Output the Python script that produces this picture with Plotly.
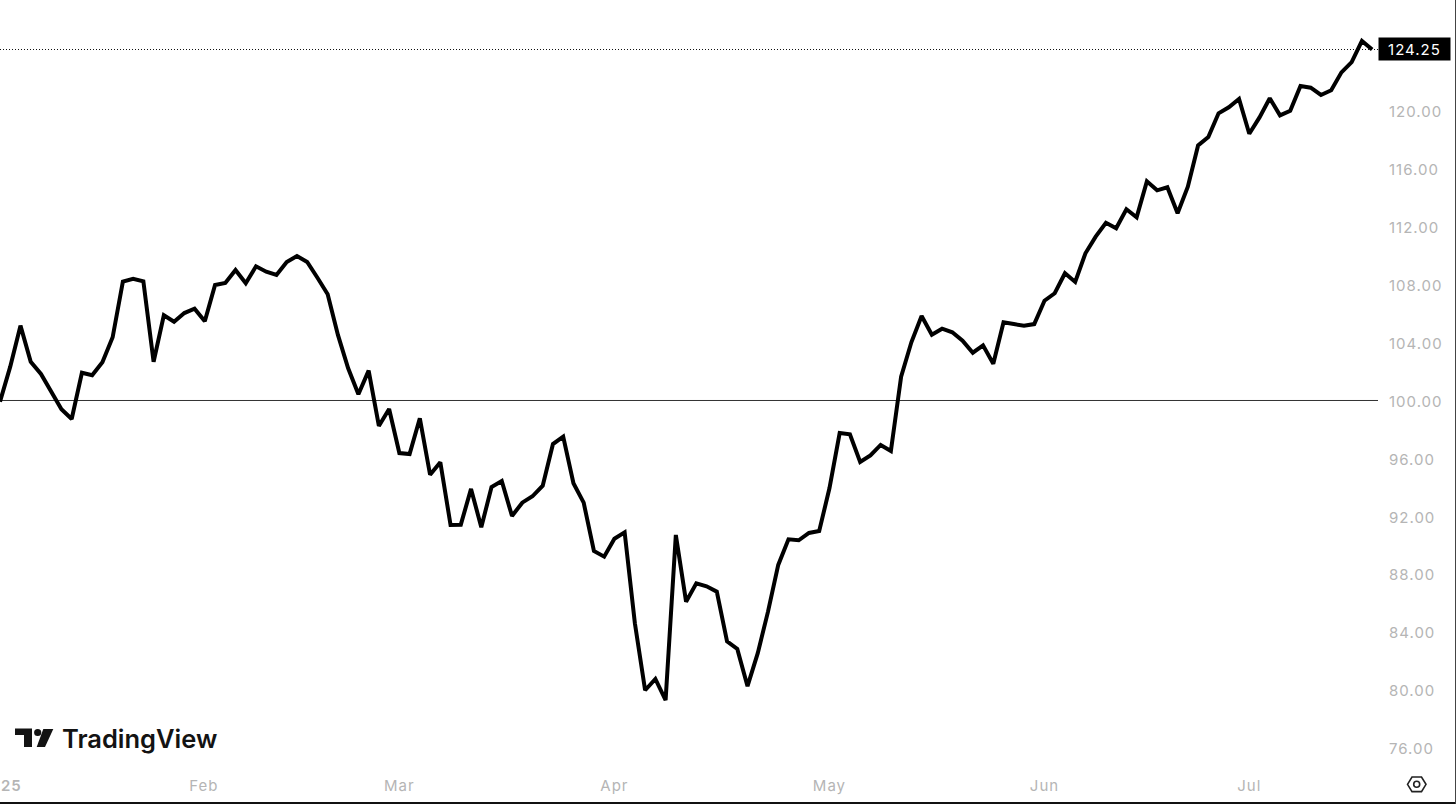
import plotly.graph_objects as go

values = [99.92,102.34,105.17,102.68,101.83,100.61,99.39,98.72,101.92,101.74,
102.64,104.37,108.21,108.41,108.23,102.68,105.89,105.44,106.04,106.34,
105.47,107.98,108.12,109.02,108.10,109.27,108.90,108.67,109.57,109.98,
109.57,108.48,107.34,104.53,102.22,100.43,102.06,98.24,99.41,96.37,
96.30,98.77,94.87,95.73,91.40,91.42,93.89,91.24,94.02,94.44,
92.02,92.94,93.38,94.11,96.99,97.50,94.28,92.94,89.60,89.21,
90.45,90.89,84.61,79.98,80.76,79.29,90.71,86.10,87.37,87.16,
86.79,83.36,82.83,80.26,82.54,85.41,88.64,90.41,90.34,90.85,
90.98,93.93,97.75,97.66,95.75,96.21,96.93,96.51,101.64,104.02,
105.84,104.55,104.96,104.71,104.13,103.30,103.81,102.54,105.40,105.28,
105.17,105.28,106.89,107.41,108.79,108.19,110.17,111.32,112.28,111.90,
113.21,112.66,115.14,114.52,114.73,112.93,114.77,117.62,118.20,119.84,
120.26,120.83,118.43,119.56,120.88,119.70,120.02,121.73,121.61,121.11,
121.43,122.67,123.38,124.84,124.25]
session = list(range(len(values)))

year_label = "25"
month_positions = [19.9, 39, 60, 81, 102, 122]
month_labels = ["Feb", "Mar", "Apr", "May", "Jun", "Jul"]
price_ticks = [76, 80, 84, 88, 92, 96, 100, 104, 108, 112, 116, 120]
price_labels = [f"{v:.2f}" for v in price_ticks]
last_price = 124.25
baseline = 100

W, H = 1456, 804
PW, PH = 1378, 770  # plot area in pixels
INK = "#000000"
MUTED = "#b5b5b5"
FONT = "Inter, 'Noto Sans', sans-serif"


def px(x):
    return x / PW


def py(y):
    return 1 - y / PH


def poly(points):
    return "M" + " L".join(f"{px(a):.5f},{py(b):.5f}" for a, b in points) + " Z"


shapes = [
    dict(type="line", xref="paper", yref="y", x0=0, x1=1, y0=baseline, y1=baseline,
         line=dict(color="#333333", width=1), layer="below"),
    dict(type="line", xref="paper", yref="y", x0=0, x1=1, y0=last_price, y1=last_price,
         line=dict(color="#111111", width=1, dash="1px,2px"), layer="below"),
    # logo
    dict(type="path", xref="paper", yref="paper", line_width=0, fillcolor="#131313",
         path=poly([(15, 728.5), (32, 728.5), (32, 747), (24, 747), (24, 735), (15, 735)])),
    dict(type="circle", xref="paper", yref="paper", line_width=0, fillcolor="#131313",
         x0=px(34.1), x1=px(41.3), y0=py(736.1), y1=py(728.9)),
    dict(type="path", xref="paper", yref="paper", line_width=0, fillcolor="#131313",
         path=poly([(43.3, 729), (53.3, 729), (45, 747), (36.7, 747)])),
    # settings hexagon
    dict(type="path", xref="paper", yref="paper", fillcolor="rgba(0,0,0,0)",
         line=dict(color="#222222", width=1.6),
         path=poly([(1407.5, 784.3), (1412, 777), (1421.5, 777), (1426, 784.3),
                    (1421.5, 791.6), (1412, 791.6)])),
    dict(type="circle", xref="paper", yref="paper", fillcolor="rgba(0,0,0,0)",
         line=dict(color="#222222", width=1.6),
         x0=px(1413.7), x1=px(1419.7), y0=py(787.3), y1=py(781.3)),
    # window edges
    dict(type="rect", xref="paper", yref="paper", line_width=0, fillcolor="#111111",
         x0=0, x1=px(W), y0=py(H), y1=py(802)),
    dict(type="rect", xref="paper", yref="paper", line_width=0, fillcolor="#444444",
         x0=px(1455), x1=px(W), y0=py(H), y1=py(0)),
]

annotations = [
    dict(xref="paper", yref="y", x=px(1378), y=last_price, xanchor="left", yanchor="middle",
         yshift=1, text="124.25", showarrow=False, bgcolor="#000000", width=71, height=22,
         align="center", font=dict(family=FONT, size=15, color="#ffffff"), borderpad=0),
    dict(xref="paper", yref="paper", x=px(60), y=py(738), xanchor="left", yanchor="middle",
         text="TradingView", showarrow=False,
         font=dict(family=FONT, size=25.5, color="#131313", weight=600)),
    dict(xref="paper", yref="paper", x=px(0), y=py(785), xanchor="left", yanchor="middle",
         text=year_label, showarrow=False,
         font=dict(family=FONT, size=15, color=MUTED, weight=600)),
]

fig = go.Figure(go.Scatter(x=session, y=values, mode="lines", hoverinfo="skip",
                           line=dict(color=INK, width=4), cliponaxis=False))
fig.update_layout(
    width=W, height=H, showlegend=False, plot_bgcolor="#ffffff", paper_bgcolor="#ffffff",
    margin=dict(l=0, r=W - PW, t=0, b=H - PH, pad=0),
    shapes=shapes, annotations=annotations,
    xaxis=dict(range=[0, PW / 10.24], tickmode="array", tickvals=month_positions,
               ticktext=month_labels, showgrid=False, zeroline=False, showline=False,
               ticks="outside", ticklen=2, tickcolor="rgba(0,0,0,0)", automargin=False,
               tickfont=dict(family=FONT, size=15, color=MUTED)),
    yaxis=dict(side="right", range=[74.47, 127.67], tickmode="array", tickvals=price_ticks,
               ticktext=price_labels, showgrid=False, zeroline=False, showline=False,
               ticks="outside", ticklen=12, ticklabelstandoff=-5, ticklabelshift=1,
               tickcolor="rgba(0,0,0,0)", automargin=False,
               tickfont=dict(family=FONT, size=15, color=MUTED)),
)
spacing_css = (
    "var s=document.createElement('style');"
    "s.textContent='.xtick text,.ytick text{letter-spacing:1px}"
    ".annotation[data-index=\"0\"] text,.annotation[data-index=\"2\"] text{letter-spacing:1px}';"
    "document.head.appendChild(s);"
    "document.body.style.margin='0';document.body.style.overflow='hidden';"
)
fig.write_html("out.html", config=dict(displayModeBar=False), post_script=spacing_css)
